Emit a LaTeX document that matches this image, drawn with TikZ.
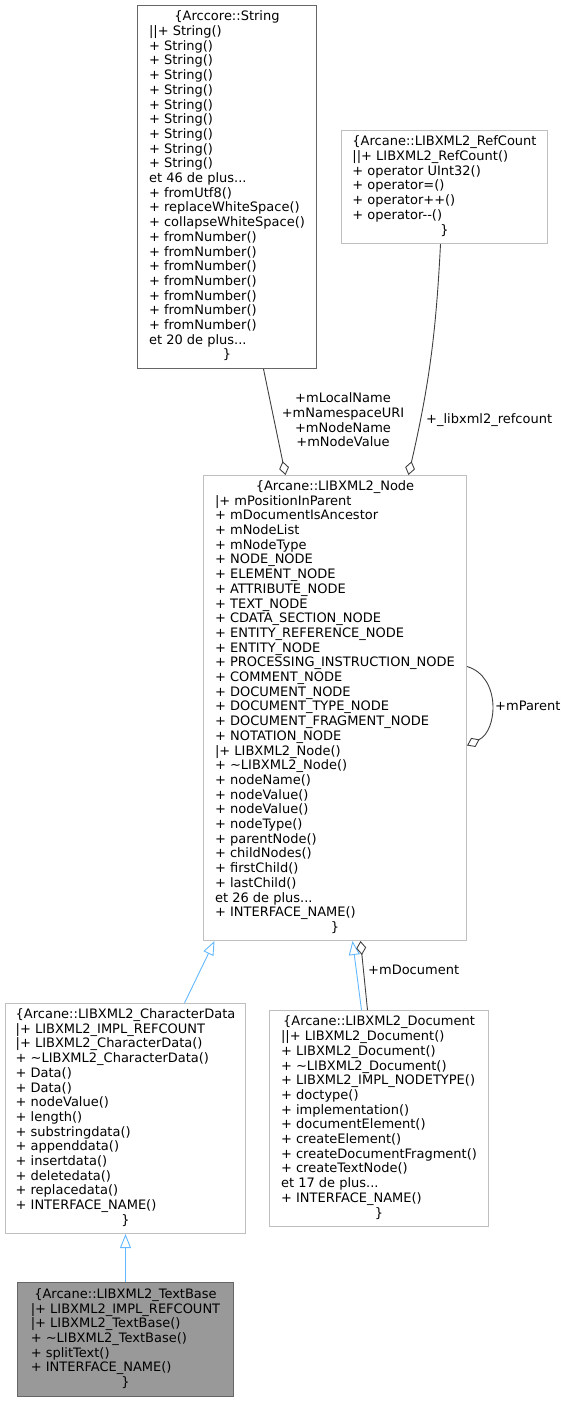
\documentclass[tikz,border=0pt]{standalone}
\usepackage{fontspec}
\setmainfont{DejaVu Sans}
\usetikzlibrary{arrows.meta}
\definecolor{edgegray}{HTML}{404040}
\definecolor{inherit}{HTML}{63B8FF}
\definecolor{boxgray}{HTML}{BFBFBF}
\definecolor{darkbox}{HTML}{666666}
\definecolor{fillgray}{HTML}{999999}
\newcommand{\ctr}[1]{\multicolumn{1}{@{}c@{}}{#1}}

\begin{document}
\begin{tikzpicture}[x=1pt,y=-1pt,
  every node/.style={font=\fontsize{13}{14.7}\selectfont},
  cls/.style={draw=boxgray,line width=1pt,fill=white,inner sep=0pt,anchor=north west},
  agg/.style={draw=edgegray,line width=0.9pt,-{Diamond[open,length=14pt,width=10pt]}},
  inh/.style={draw=inherit,line width=0.9pt,-{Triangle[open,length=14pt,width=11pt]}}]
  \useasboundingbox (0,0) rectangle (565,1401);
  % Upper part: the two used classes
  \node[cls,draw=darkbox,minimum width=179pt,minimum height=363pt] (String) at (137,5)
  {\begin{tabular}{@{}l@{}}
   \ctr{\{Arccore::String}\\
   ||+ String()\\ + String()\\ + String()\\ + String()\\ + String()\\
   + String()\\ + String()\\ + String()\\ + String()\\ + String()\\
   et 46 de plus...\\
   + fromUtf8()\\ + replaceWhiteSpace()\\ + collapseWhiteSpace()\\
   + fromNumber()\\ + fromNumber()\\ + fromNumber()\\ + fromNumber()\\
   + fromNumber()\\ + fromNumber()\\ + fromNumber()\\
   et 20 de plus...\\
   \ctr{\}}
   \end{tabular}};
  \node[cls,minimum width=206pt,minimum height=113pt] (RefCount) at (341,130)
  {\begin{tabular}{@{}l@{}}
   \ctr{\{Arcane::LIBXML2\_RefCount}\\
   ||+ LIBXML2\_RefCount()\\
   + operator UInt32()\\
   + operator=()\\
   + operator++()\\
   + operator-{}-()\\
   \ctr{\}}
   \end{tabular}};
  % Middle part
  \node[cls,minimum width=263pt,minimum height=465pt] (Node) at (203,475)
  {\begin{tabular}{@{}l@{}}
   \ctr{\{Arcane::LIBXML2\_Node}\\
   |+ mPositionInParent\\
   + mDocumentIsAncestor\\
   + mNodeList\\
   + mNodeType\\
   + NODE\_NODE\\
   + ELEMENT\_NODE\\
   + ATTRIBUTE\_NODE\\
   + TEXT\_NODE\\
   + CDATA\_SECTION\_NODE\\
   + ENTITY\_REFERENCE\_NODE\\
   + ENTITY\_NODE\\
   + PROCESSING\_INSTRUCTION\_NODE\\
   + COMMENT\_NODE\\
   + DOCUMENT\_NODE\\
   + DOCUMENT\_TYPE\_NODE\\
   + DOCUMENT\_FRAGMENT\_NODE\\
   + NOTATION\_NODE\\
   |+ LIBXML2\_Node()\\
   + \textasciitilde LIBXML2\_Node()\\
   + nodeName()\\
   + nodeValue()\\
   + nodeValue()\\
   + nodeType()\\
   + parentNode()\\
   + childNodes()\\
   + firstChild()\\
   + lastChild()\\
   et 26 de plus...\\
   + INTERFACE\_NAME()\\
   \ctr{\}}
   \end{tabular}};
  % Lower part: derived classes
  \node[cls,minimum width=240pt,minimum height=230pt] (CharData) at (5,1003)
  {\begin{tabular}{@{}l@{}}
   \ctr{\{Arcane::LIBXML2\_CharacterData}\\
   |+ LIBXML2\_IMPL\_REFCOUNT\\
   |+ LIBXML2\_CharacterData()\\
   + \textasciitilde LIBXML2\_CharacterData()\\
   + Data()\\
   + Data()\\
   + nodeValue()\\
   + length()\\
   + substringdata()\\
   + appenddata()\\
   + insertdata()\\
   + deletedata()\\
   + replacedata()\\
   + INTERFACE\_NAME()\\
   \ctr{\}}
   \end{tabular}};
  \node[cls,minimum width=219pt,minimum height=216pt] (Document) at (269,1010)
  {\begin{tabular}{@{}l@{}}
   \ctr{\{Arcane::LIBXML2\_Document}\\
   ||+ LIBXML2\_Document()\\
   + LIBXML2\_Document()\\
   + \textasciitilde LIBXML2\_Document()\\
   + LIBXML2\_IMPL\_NODETYPE()\\
   + doctype()\\
   + implementation()\\
   + documentElement()\\
   + createElement()\\
   + createDocumentFragment()\\
   + createTextNode()\\
   et 17 de plus...\\
   + INTERFACE\_NAME()\\
   \ctr{\}}
   \end{tabular}};
  \node[cls,draw=darkbox,fill=fillgray,minimum width=216pt,minimum height=114pt] (TextBase) at (17,1282)
  {\begin{tabular}{@{}l@{}}
   \ctr{\{Arcane::LIBXML2\_TextBase}\\
   |+ LIBXML2\_IMPL\_REFCOUNT\\
   |+ LIBXML2\_TextBase()\\
   + \textasciitilde LIBXML2\_TextBase()\\
   + splitText()\\
   + INTERFACE\_NAME()\\
   \ctr{\}}
   \end{tabular}};
  % aggregation links
  \draw[agg] ([xshift=36.5pt]String.south) -- ([xshift=-49.5pt]Node.north);
  \node[align=center] (lblString) at (343,420) {+mLocalName\\+mNamespaceURI\\+mNodeName\\+mNodeValue};
  \draw[agg] ([xshift=-4pt]RefCount.south) to[bend left=5] ([xshift=73.5pt]Node.north);
  \node[anchor=west,inner sep=0pt] (lblRefCount) at (426,420) {+\_libxml2\_refcount};
  \draw[agg] ([yshift=41.5pt]Node.east) .. controls +(34,10) and +(31,-15) .. ([yshift=-37.5pt]Node.east);
  \node[anchor=west,inner sep=0pt] (lblParent) at (495,706) {+mParent};
  % inheritance links
  \draw[inh] ([xshift=59pt]CharData.north) -- ([xshift=-120.5pt]Node.south);
  \draw[inh] ([xshift=-17.5pt]Document.north) -- ([xshift=17.5pt]Node.south);
  \draw[agg] ([xshift=-11.5pt]Document.north) -- ([xshift=25.5pt]Node.south);
  \node[anchor=west,inner sep=0pt] (lblDocument) at (368,970) {+mDocument};
  \draw[inh] (TextBase.north) -- (CharData.south);
\end{tikzpicture}
\end{document}
